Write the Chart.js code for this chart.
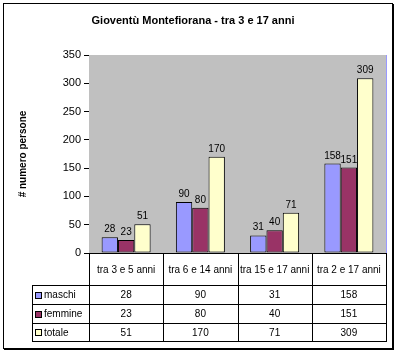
<!DOCTYPE html>
<html>
<head>
<meta charset="utf-8">
<script src="https://cdn.jsdelivr.net/npm/chart.js@4.4.0/dist/chart.umd.min.js"></script>
<style>
  html, body { margin: 0; padding: 0; background: #fff; }
  #wrap { width: 397px; height: 352px; }
</style>
</head>
<body>
<div id="wrap"><canvas id="c" width="397" height="352"></canvas></div>
<script>
const titleText = 'Gioventù Montefiorana - tra 3 e 17 anni';
const yTitle = '# numero persone';
const categories = ['tra 3 e 5 anni', 'tra 6 e 14 anni', 'tra 15 e 17 anni', 'tra 2 e 17 anni'];
const seriesNames = ['maschi', 'femmine', 'totale'];
const maschi = [28, 90, 31, 158];
const femmine = [23, 80, 40, 151];
const totale = [51, 170, 71, 309];
const yMin = 0, yMax = 350, yStep = 50;

const FONT = 'Liberation Sans, Arial, sans-serif';
const colors = ['#9999FF', '#993366', '#FFFFCC'];
const seriesData = [maschi, femmine, totale];

const TABLE_ROWS = [285, 304, 323, 341];
const TABLE_LEFT = 32;

const framePlugin = {
  id: 'frame',
  beforeDatasetsDraw(chart) {
    const { ctx, chartArea: a } = chart;
    ctx.save();
    ctx.fillStyle = '#C0C0C0';
    ctx.fillRect(a.left, a.top, a.right - a.left, a.bottom - a.top);
    ctx.restore();
  },
  afterDraw(chart) {
    const { ctx, chartArea: a } = chart;
    const x = chart.scales.x;
    ctx.save();
    // plot right border
    ctx.strokeStyle = '#9999FF';
    ctx.lineWidth = 1;
    ctx.beginPath();
    ctx.moveTo(Math.round(a.right) + 0.5, a.top);
    ctx.lineTo(Math.round(a.right) + 0.5, a.bottom);
    ctx.stroke();

    // data table
    const half = (x.getPixelForValue(1) - x.getPixelForValue(0)) / 2;
    const bounds = [a.left];
    categories.forEach((c, i) => bounds.push(x.getPixelForValue(i) + half));
    ctx.strokeStyle = '#000';
    ctx.beginPath();
    bounds.forEach(b => {
      const bx = Math.round(b) + 0.5;
      ctx.moveTo(bx, a.bottom);
      ctx.lineTo(bx, TABLE_ROWS[TABLE_ROWS.length - 1] + 0.5);
    });
    ctx.moveTo(TABLE_LEFT + 0.5, TABLE_ROWS[0]);
    ctx.lineTo(TABLE_LEFT + 0.5, TABLE_ROWS[TABLE_ROWS.length - 1] + 0.5);
    const right = Math.round(bounds[bounds.length - 1]) + 0.5;
    TABLE_ROWS.forEach(r => {
      ctx.moveTo(TABLE_LEFT, r + 0.5);
      ctx.lineTo(right + 0.5, r + 0.5);
    });
    ctx.stroke();

    ctx.font = '10px ' + FONT;
    ctx.fillStyle = '#000';
    ctx.textBaseline = 'middle';
    seriesNames.forEach((name, si) => {
      const cy = (TABLE_ROWS[si] + TABLE_ROWS[si + 1]) / 2 + 1;
      ctx.fillStyle = colors[si];
      ctx.fillRect(35, Math.round(cy) - 4, 7, 7);
      ctx.strokeStyle = '#000';
      ctx.strokeRect(35.5, Math.round(cy) - 3.5, 6, 6);
      ctx.fillStyle = '#000';
      ctx.textAlign = 'left';
      ctx.fillText(name, 44, cy);
      ctx.textAlign = 'center';
      seriesData[si].forEach((v, i) => {
        ctx.fillText(String(v), x.getPixelForValue(i), cy);
      });
    });

    // value labels
    ctx.textAlign = 'center';
    ctx.textBaseline = 'alphabetic';
    chart.data.datasets.forEach((ds, di) => {
      const meta = chart.getDatasetMeta(di);
      meta.data.forEach((el, i) => {
        ctx.fillText(String(ds.data[i]), el.x, el.y - 5);
      });
    });

    // outer frame
    ctx.strokeStyle = '#000';
    ctx.lineWidth = 1;
    ctx.strokeRect(3.5, 3.5, 389, 345);
    ctx.beginPath();
    ctx.moveTo(393.5, 4); ctx.lineTo(393.5, 350);
    ctx.moveTo(4, 349.5); ctx.lineTo(394, 349.5);
    ctx.stroke();
    ctx.restore();
  }
};

new Chart(document.getElementById('c'), {
  type: 'bar',
  data: {
    labels: categories,
    datasets: seriesNames.map((n, i) => ({
      label: n,
      data: seriesData[i],
      backgroundColor: colors[i],
      borderColor: '#000',
      borderWidth: 1,
      borderSkipped: false,
      categoryPercentage: 0.66,
      barPercentage: 1.0
    }))
  },
  options: {
    responsive: false,
    animation: false,
    layout: { padding: { top: 0, right: 11, bottom: 0, left: 0 } },
    plugins: {
      legend: { display: false },
      tooltip: { enabled: false },
      title: {
        display: true,
        text: titleText,
        color: '#000',
        font: { family: FONT, size: 11, weight: 'bold' },
        padding: { top: 14, bottom: 27.8 }
      }
    },
    scales: {
      x: {
        afterFit(s) { s.height = 99; },
        grid: { display: false, drawTicks: false },
        border: { display: true, color: '#000' },
        ticks: { color: '#000', font: { family: FONT, size: 10 }, padding: 11, maxRotation: 0, autoSkip: false }
      },
      y: {
        min: yMin, max: yMax,
        afterFit(s) { s.width = 89; },
        ticks: { stepSize: yStep, color: '#000', font: { family: FONT, size: 11 }, padding: 3 },
        grid: {
          color: ctx => (ctx.tick && ctx.tick.value === yMax ? '#9999FF' : '#000'),
          tickColor: '#000',
          tickLength: 5,
          lineWidth: 1
        },
        border: { display: true, color: '#000' },
        title: {
          display: true,
          text: yTitle,
          color: '#000',
          font: { family: FONT, size: 10, weight: 'bold' },
          padding: { top: 17, bottom: 0 }
        }
      }
    }
  },
  plugins: [framePlugin]
});
</script>
</body>
</html>
